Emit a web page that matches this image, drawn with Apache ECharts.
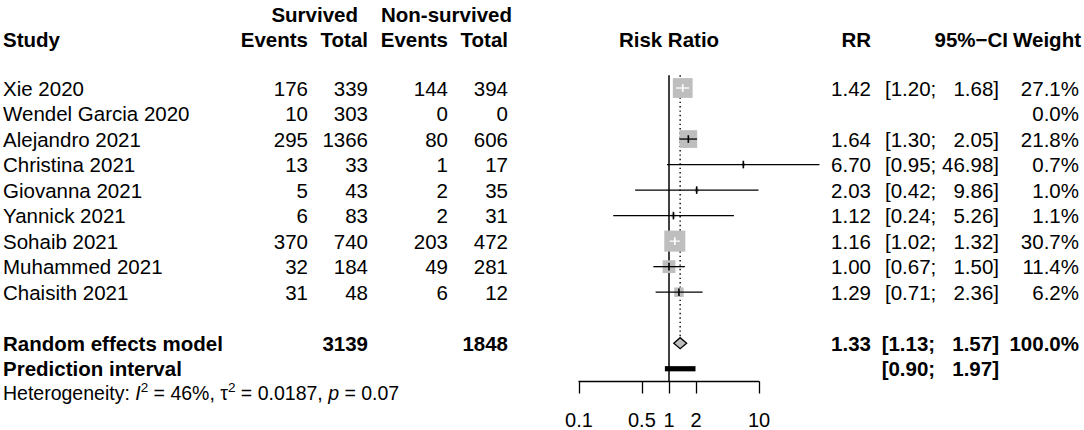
<!doctype html>
<html>
<head>
  <meta charset="utf-8">
  <title>Forest plot</title>
  <script src="https://cdn.jsdelivr.net/npm/echarts@6/dist/echarts.min.js"></script>
  <style>
    html, body { margin: 0; padding: 0; background: #fff; }
    #forest { width: 1084px; height: 430px; }
  </style>
</head>
<body>
<div id="forest"></div>
<script>
// study data
var studies    = ['Xie 2020', 'Wendel Garcia 2020', 'Alejandro 2021', 'Christina 2021', 'Giovanna 2021',
                  'Yannick 2021', 'Sohaib 2021', 'Muhammed 2021', 'Chaisith 2021'];
var survEvents = [176, 10, 295, 13, 5, 6, 370, 32, 31];
var survTotal  = [339, 303, 1366, 33, 43, 83, 740, 184, 48];
var nonEvents  = [144, 0, 80, 1, 2, 2, 203, 49, 6];
var nonTotal   = [394, 0, 606, 17, 35, 31, 472, 281, 12];
var rr         = [1.42, null, 1.64, 6.70, 2.03, 1.12, 1.16, 1.00, 1.29];
var ciLow      = [1.20, null, 1.30, 0.95, 0.42, 0.24, 1.02, 0.67, 0.71];
var ciHigh     = [1.68, null, 2.05, 46.98, 9.86, 5.26, 1.32, 1.50, 2.36];
var weight     = [27.1, 0.0, 21.8, 0.7, 1.0, 1.1, 30.7, 11.4, 6.2];

// pooled results
var pooled     = [1.33, 1.13, 1.57];   // RR, lower, upper
var pooledTotals = [3139, 1848];
var predInt    = [0.90, 1.97];
var hetStats   = { i2: '46%', tau2: '0.0187', p: '0.07' };

// axis
var tickValues = [0.1, 0.5, 1, 2, 10];
var tickLabels = ['0.1', '0.5', '1', '2', '10'];

var ROW_POOLED = 10, ROW_PRED = 11, ROW_HET = 12;
var FONT = '"Liberation Sans", Arial, Helvetica, sans-serif';
var FS = 20.5;
var GRAY = '#bebebe';
var SQUARE_SCALE = 3.8;   // px per sqrt(weight %)

function fmt2(v) { return v.toFixed(2); }
function ciText(lo, hi) {
  // pad so the brackets line up like the R output
  return '[' + fmt2(lo) + ';\u00a0' + (hi < 10 ? '\u00a0\u00a0' : '') + fmt2(hi) + ']';
}

// table rows
var tableRows = [];
studies.forEach(function (s, i) {
  tableRows.push({
    row: i, bold: false,
    cells: [s, String(survEvents[i]), String(survTotal[i]), String(nonEvents[i]), String(nonTotal[i]),
            rr[i] == null ? '' : fmt2(rr[i]),
            rr[i] == null ? '' : ciText(ciLow[i], ciHigh[i]),
            weight[i].toFixed(1) + '%']
  });
});
tableRows.push({ row: ROW_POOLED, bold: true,
  cells: ['Random effects model', '', String(pooledTotals[0]), '', String(pooledTotals[1]),
          fmt2(pooled[0]), ciText(pooled[1], pooled[2]), '100.0%'] });
tableRows.push({ row: ROW_PRED, bold: true,
  cells: ['Prediction interval', '', '', '', '', '', ciText(predInt[0], predInt[1]), ''] });

var colX     = [3, 308, 368, 448, 508, 871, 999, 1079];
var colAlign = ['left', 'right', 'right', 'right', 'right', 'right', 'right', 'right'];

var studyData = [];
rr.forEach(function (v, i) {
  if (v != null) studyData.push([i, v, ciLow[i], ciHigh[i], weight[i]]);
});

function renderStudy(params, api) {
  var row = api.value(0);
  var est = api.coord([api.value(1), row]);
  var lo = api.coord([api.value(2), row]);
  var hi = api.coord([api.value(3), row]);
  var side = SQUARE_SCALE * Math.sqrt(api.value(4));
  var half = side / 2;
  // CI drawn white when it fits inside the square
  var inside = lo[0] >= est[0] - half && hi[0] <= est[0] + half;
  var ink = inside ? '#fff' : '#000';
  return {
    type: 'group',
    children: [
      { type: 'rect', shape: { x: est[0] - half, y: est[1] - half, width: side, height: side },
        style: { fill: GRAY } },
      { type: 'line', shape: { x1: lo[0], y1: est[1], x2: hi[0], y2: est[1] },
        style: { stroke: ink, lineWidth: 1.3 } },
      { type: 'line', shape: { x1: est[0], y1: est[1] - 3.8, x2: est[0], y2: est[1] + 3.8 },
        style: { stroke: ink, lineWidth: 1.6 } }
    ]
  };
}

function renderDiamond(params, api) {
  var row = api.value(0);
  var est = api.coord([api.value(1), row]);
  var lo = api.coord([api.value(2), row]);
  var hi = api.coord([api.value(3), row]);
  var h = 5.5;
  return {
    type: 'polygon',
    shape: { points: [[lo[0], est[1]], [est[0], est[1] - h], [hi[0], est[1]], [est[0], est[1] + h]] },
    style: { fill: GRAY, stroke: '#000', lineWidth: 1.3 }
  };
}

function renderPred(params, api) {
  var row = api.value(0);
  var lo = api.coord([api.value(1), row]);
  var hi = api.coord([api.value(2), row]);
  return {
    type: 'rect',
    shape: { x: lo[0], y: lo[1] - 2.6, width: hi[0] - lo[0], height: 5.2 },
    style: { fill: '#000' }
  };
}

// vertical lines: [x, rowFrom, rowTo, dotted]
function renderRefLine(params, api) {
  var a = api.coord([api.value(0), api.value(1)]);
  var b = api.coord([api.value(0), api.value(2)]);
  return {
    type: 'line',
    shape: { x1: a[0], y1: a[1], x2: b[0], y2: b[1] },
    style: { stroke: '#000', lineWidth: api.value(3) ? 1.4 : 1.5,
             lineDash: api.value(3) ? [1.4, 3] : null }
  };
}

function renderTable(params, api) {
  var r = tableRows[params.dataIndex];
  var y = api.coord([1, r.row])[1];
  var kids = r.cells.map(function (t, c) {
    return { type: 'text', style: {
      text: t, x: colX[c], y: y, align: colAlign[c], verticalAlign: 'middle',
      font: (r.bold ? 'bold ' : '') + FS + 'px ' + FONT, fill: '#000' } };
  });
  return { type: 'group', children: kids };
}

function renderHet(params, api) {
  var y = api.coord([1, ROW_HET])[1] - 1;
  var n = { fontSize: 19.5, lineHeight: 26, fontFamily: FONT, color: '#000' };
  return {
    type: 'text',
    style: {
      x: 3, y: y, align: 'left', verticalAlign: 'middle',
      text: '{n|Heterogeneity: }{i|I}{s|2}{n| = ' + hetStats.i2 + ', \u03c4}{s|2}{n| = ' + hetStats.tau2 +
            ', }{i|p}{n| = ' + hetStats.p + '}',
      rich: {
        n: n,
        i: { fontSize: 19.5, lineHeight: 26, fontFamily: FONT, color: '#000', fontStyle: 'italic' },
        s: { fontSize: 13.5, lineHeight: 14, fontFamily: FONT, color: '#000', verticalAlign: 'top' }
      }
    }
  };
}

function headText(text, x, y, align) {
  return { type: 'text', x: x, y: y,
    style: { text: text, align: align, verticalAlign: 'middle',
             font: 'bold ' + FS + 'px ' + FONT, fill: '#000' } };
}

var chart = echarts.init(document.getElementById('forest'), null, { renderer: 'svg' });

var option = {
  animation: false,
  grid: { left: 579, right: 325, top: 75.25, bottom: 48.5 },
  xAxis: {
    type: 'log', logBase: 10, min: 0.1, max: 10, position: 'bottom',
    splitLine: { show: false },
    axisLine: { show: true, onZero: false, lineStyle: { color: '#000', width: 1.3 } },
    axisTick: { show: true, customValues: tickValues, length: 12, lineStyle: { color: '#000', width: 1.3 } },
    axisLabel: {
      show: true, customValues: tickValues, margin: 28,
      fontSize: 20, fontFamily: FONT, color: '#000',
      formatter: function (v) {
        for (var k = 0; k < tickValues.length; k++) {
          if (Math.abs(v - tickValues[k]) < 1e-6 * tickValues[k]) return tickLabels[k];
        }
        return '';
      }
    }
  },
  yAxis: {
    type: 'value', min: -0.5, max: 11.5, inverse: true, show: false,
    splitLine: { show: false }
  },
  graphic: [
    headText('Survived', 358, 14, 'right'),
    headText('Non-survived', 512, 14, 'right'),
    headText('Study', 3, 39, 'left'),
    headText('Events', 308, 39, 'right'),
    headText('Total', 368, 39, 'right'),
    headText('Events', 448, 39, 'right'),
    headText('Total', 508, 39, 'right'),
    headText('Risk Ratio', 669, 39, 'center'),
    headText('RR', 871, 39, 'right'),
    headText('95%\u2212CI', 1008, 39, 'right'),
    headText('Weight', 1081, 39, 'right')
  ],
  series: [
    {
      name: 'reference', type: 'custom', renderItem: renderRefLine, silent: true,
      encode: { x: 0, y: 1 },
      data: [[1, -0.5, 11.5, 0], [pooled[0], -0.5, ROW_POOLED - 0.22, 1]]
    },
    {
      name: 'studies', type: 'custom', renderItem: renderStudy, silent: true,
      encode: { x: 1, y: 0 }, data: studyData
    },
    {
      name: 'random effects', type: 'custom', renderItem: renderDiamond, silent: true,
      encode: { x: 1, y: 0 }, data: [[ROW_POOLED, pooled[0], pooled[1], pooled[2]]]
    },
    {
      name: 'prediction', type: 'custom', renderItem: renderPred, silent: true,
      encode: { x: 1, y: 0 }, data: [[ROW_PRED, predInt[0], predInt[1]]]
    },
    {
      name: 'table', type: 'custom', renderItem: renderTable, silent: true,
      encode: { x: 1, y: 0 },
      data: tableRows.map(function (r) { return [r.row, 1]; })
    },
    {
      name: 'heterogeneity', type: 'custom', renderItem: renderHet, silent: true,
      encode: { x: 1, y: 0 }, data: [[ROW_HET, 1]]
    }
  ]
};

chart.setOption(option);
</script>
</body>
</html>
